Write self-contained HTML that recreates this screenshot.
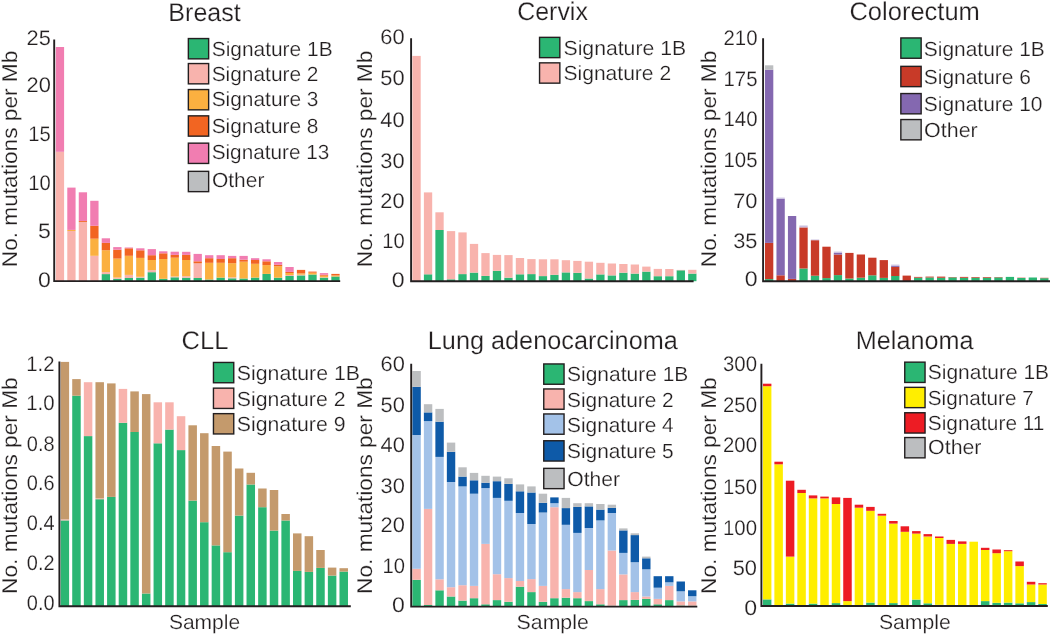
<!DOCTYPE html>
<html><head><meta charset="utf-8"><title>Mutational signatures per sample</title>
<style>
html,body{margin:0;padding:0;background:#ffffff;}
body{width:1050px;height:634px;overflow:hidden;}
svg{display:block;will-change:transform;}
text{font-family:"Liberation Sans",sans-serif;fill:#231f20;stroke:#ffffff;stroke-width:0.2px;paint-order:fill stroke;text-rendering:geometricPrecision;}
.t{font-size:25.5px;}
.l{font-size:20.5px;}
.k{font-size:21px;text-anchor:end;}
.y{font-size:21.4px;}
.s{font-size:20.5px;}
</style></head><body>
<svg width="1050" height="634" viewBox="0 0 1050 634">
<rect x="0" y="0" width="1050" height="634" fill="#ffffff"/>
<g>
<rect x="55.8" y="151.8" width="8.3" height="129.3" fill="#f8b3ad"/>
<rect x="55.8" y="47" width="8.3" height="104.8" fill="#f17db1"/>
<rect x="67.28" y="231" width="8.3" height="50.1" fill="#f8b3ad"/>
<rect x="67.28" y="229.9" width="8.3" height="1.1" fill="#fbb040"/>
<rect x="67.28" y="187.6" width="8.3" height="42.3" fill="#f17db1"/>
<rect x="78.76" y="221.9" width="8.3" height="59.2" fill="#f8b3ad"/>
<rect x="78.76" y="221" width="8.3" height="0.9" fill="#f26522"/>
<rect x="78.76" y="192.3" width="8.3" height="28.7" fill="#f17db1"/>
<rect x="90.24" y="255.8" width="8.3" height="25.3" fill="#f8b3ad"/>
<rect x="90.24" y="238.7" width="8.3" height="17.1" fill="#fbb040"/>
<rect x="90.24" y="225.8" width="8.3" height="12.9" fill="#f26522"/>
<rect x="90.24" y="200.8" width="8.3" height="25" fill="#f17db1"/>
<rect x="101.72" y="274.1" width="8.3" height="7" fill="#2bb673"/>
<rect x="101.72" y="272.1" width="8.3" height="2" fill="#f8b3ad"/>
<rect x="101.72" y="250.2" width="8.3" height="21.9" fill="#fbb040"/>
<rect x="101.72" y="242.9" width="8.3" height="7.3" fill="#f26522"/>
<rect x="101.72" y="238.3" width="8.3" height="4.6" fill="#f17db1"/>
<rect x="113.2" y="278.8" width="8.3" height="2.3" fill="#2bb673"/>
<rect x="113.2" y="277.6" width="8.3" height="1.2" fill="#f8b3ad"/>
<rect x="113.2" y="258.6" width="8.3" height="19" fill="#fbb040"/>
<rect x="113.2" y="249.7" width="8.3" height="8.9" fill="#f26522"/>
<rect x="113.2" y="247.1" width="8.3" height="2.6" fill="#f17db1"/>
<rect x="124.68" y="278" width="8.3" height="3.1" fill="#2bb673"/>
<rect x="124.68" y="274.9" width="8.3" height="3.1" fill="#f8b3ad"/>
<rect x="124.68" y="255.8" width="8.3" height="19.1" fill="#fbb040"/>
<rect x="124.68" y="248.3" width="8.3" height="7.5" fill="#f26522"/>
<rect x="124.68" y="247.5" width="8.3" height="0.8" fill="#f17db1"/>
<rect x="136.16" y="277.7" width="8.3" height="3.4" fill="#2bb673"/>
<rect x="136.16" y="276.8" width="8.3" height="0.9" fill="#f8b3ad"/>
<rect x="136.16" y="257.9" width="8.3" height="18.9" fill="#fbb040"/>
<rect x="136.16" y="250.3" width="8.3" height="7.6" fill="#f26522"/>
<rect x="136.16" y="248.3" width="8.3" height="2" fill="#f17db1"/>
<rect x="147.64" y="272.2" width="8.3" height="8.9" fill="#2bb673"/>
<rect x="147.64" y="270.1" width="8.3" height="2.1" fill="#f8b3ad"/>
<rect x="147.64" y="260" width="8.3" height="10.1" fill="#fbb040"/>
<rect x="147.64" y="255.2" width="8.3" height="4.8" fill="#f26522"/>
<rect x="147.64" y="249.1" width="8.3" height="6.1" fill="#f17db1"/>
<rect x="159.12" y="278.8" width="8.3" height="2.3" fill="#2bb673"/>
<rect x="159.12" y="259" width="8.3" height="19.8" fill="#fbb040"/>
<rect x="159.12" y="253.3" width="8.3" height="5.7" fill="#f26522"/>
<rect x="159.12" y="251.3" width="8.3" height="2" fill="#f17db1"/>
<rect x="170.6" y="277.3" width="8.3" height="3.8" fill="#2bb673"/>
<rect x="170.6" y="276.5" width="8.3" height="0.8" fill="#f8b3ad"/>
<rect x="170.6" y="257.7" width="8.3" height="18.8" fill="#fbb040"/>
<rect x="170.6" y="254.9" width="8.3" height="2.8" fill="#f26522"/>
<rect x="170.6" y="251.7" width="8.3" height="3.2" fill="#f17db1"/>
<rect x="182.08" y="277.7" width="8.3" height="3.4" fill="#2bb673"/>
<rect x="182.08" y="276.2" width="8.3" height="1.5" fill="#f8b3ad"/>
<rect x="182.08" y="260" width="8.3" height="16.2" fill="#fbb040"/>
<rect x="182.08" y="254.9" width="8.3" height="5.1" fill="#f26522"/>
<rect x="182.08" y="251.8" width="8.3" height="3.1" fill="#f17db1"/>
<rect x="193.56" y="278" width="8.3" height="3.1" fill="#2bb673"/>
<rect x="193.56" y="263.3" width="8.3" height="14.7" fill="#f8b3ad"/>
<rect x="193.56" y="261.3" width="8.3" height="2" fill="#f26522"/>
<rect x="193.56" y="253.9" width="8.3" height="7.4" fill="#f17db1"/>
<rect x="205.04" y="279.5" width="8.3" height="1.6" fill="#2bb673"/>
<rect x="205.04" y="262.8" width="8.3" height="16.7" fill="#fbb040"/>
<rect x="205.04" y="258.2" width="8.3" height="4.6" fill="#f26522"/>
<rect x="205.04" y="255.2" width="8.3" height="3" fill="#f17db1"/>
<rect x="216.52" y="277.6" width="8.3" height="3.5" fill="#2bb673"/>
<rect x="216.52" y="262.8" width="8.3" height="14.8" fill="#fbb040"/>
<rect x="216.52" y="259" width="8.3" height="3.8" fill="#f26522"/>
<rect x="216.52" y="255.2" width="8.3" height="3.8" fill="#f17db1"/>
<rect x="228" y="278.3" width="8.3" height="2.8" fill="#2bb673"/>
<rect x="228" y="277.3" width="8.3" height="1" fill="#f8b3ad"/>
<rect x="228" y="263.2" width="8.3" height="14.1" fill="#fbb040"/>
<rect x="228" y="258.2" width="8.3" height="5" fill="#f26522"/>
<rect x="228" y="255.9" width="8.3" height="2.3" fill="#f17db1"/>
<rect x="239.48" y="278.5" width="8.3" height="2.6" fill="#2bb673"/>
<rect x="239.48" y="261.7" width="8.3" height="16.8" fill="#fbb040"/>
<rect x="239.48" y="259.7" width="8.3" height="2" fill="#f26522"/>
<rect x="239.48" y="255.9" width="8.3" height="3.8" fill="#f17db1"/>
<rect x="250.96" y="277.6" width="8.3" height="3.5" fill="#2bb673"/>
<rect x="250.96" y="263.8" width="8.3" height="13.8" fill="#fbb040"/>
<rect x="250.96" y="260" width="8.3" height="3.8" fill="#f26522"/>
<rect x="250.96" y="258.2" width="8.3" height="1.8" fill="#f17db1"/>
<rect x="262.44" y="273.9" width="8.3" height="7.2" fill="#2bb673"/>
<rect x="262.44" y="265.1" width="8.3" height="8.8" fill="#fbb040"/>
<rect x="262.44" y="261.3" width="8.3" height="3.8" fill="#f26522"/>
<rect x="262.44" y="259.3" width="8.3" height="2" fill="#f17db1"/>
<rect x="273.92" y="277.7" width="8.3" height="3.4" fill="#2bb673"/>
<rect x="273.92" y="266.3" width="8.3" height="11.4" fill="#fbb040"/>
<rect x="273.92" y="264.8" width="8.3" height="1.5" fill="#f26522"/>
<rect x="273.92" y="262" width="8.3" height="2.8" fill="#f17db1"/>
<rect x="285.4" y="276" width="8.3" height="5.1" fill="#2bb673"/>
<rect x="285.4" y="275" width="8.3" height="1" fill="#f8b3ad"/>
<rect x="285.4" y="273" width="8.3" height="2" fill="#fbb040"/>
<rect x="285.4" y="271.9" width="8.3" height="1.1" fill="#f26522"/>
<rect x="285.4" y="267" width="8.3" height="4.9" fill="#f17db1"/>
<rect x="296.88" y="275.4" width="8.3" height="5.7" fill="#2bb673"/>
<rect x="296.88" y="274.7" width="8.3" height="0.7" fill="#f8b3ad"/>
<rect x="296.88" y="273.4" width="8.3" height="1.3" fill="#fbb040"/>
<rect x="296.88" y="269.9" width="8.3" height="3.5" fill="#f26522"/>
<rect x="308.36" y="274.5" width="8.3" height="6.6" fill="#2bb673"/>
<rect x="308.36" y="272.7" width="8.3" height="1.8" fill="#fbb040"/>
<rect x="308.36" y="271.6" width="8.3" height="1.1" fill="#f26522"/>
<rect x="319.84" y="277.7" width="8.3" height="3.4" fill="#2bb673"/>
<rect x="319.84" y="277.3" width="8.3" height="0.4" fill="#f8b3ad"/>
<rect x="319.84" y="275.7" width="8.3" height="1.6" fill="#fbb040"/>
<rect x="319.84" y="274.7" width="8.3" height="1" fill="#f26522"/>
<rect x="319.84" y="273.1" width="8.3" height="1.6" fill="#f17db1"/>
<rect x="331.32" y="276.5" width="8.3" height="4.6" fill="#2bb673"/>
<rect x="331.32" y="275.4" width="8.3" height="1.1" fill="#fbb040"/>
<rect x="331.32" y="273.9" width="8.3" height="1.5" fill="#f26522"/>
<path d="M54.2 39.5 V281.1 H340.2" fill="none" stroke="#231f20" stroke-width="1.9"/>
<text class="k" transform="translate(50.8 287.1) scale(1.1 1)">0</text>
<text class="k" transform="translate(50.8 238.2) scale(1.1 1)">5</text>
<text class="k" transform="translate(50.8 190.4) scale(0.96 1)">10</text>
<text class="k" transform="translate(50.8 140.7) scale(0.96 1)">15</text>
<text class="k" transform="translate(50.8 92.4) scale(1.04 1)">20</text>
<text class="k" transform="translate(50.8 45) scale(1.04 1)">25</text>
<text class="y" transform="translate(16.8 267.2) rotate(-90)" textLength="216.5" lengthAdjust="spacingAndGlyphs">No. mutations per Mb</text>
<text class="t" x="168.3" y="20.6" textLength="72.5" lengthAdjust="spacingAndGlyphs">Breast</text>
<rect x="188.35" y="38.55" width="20.3" height="20.3" fill="#2bb673" stroke="#231f20" stroke-width="1.4"/>
<text class="l" x="211.7" y="55.7" textLength="120.9" lengthAdjust="spacingAndGlyphs">Signature 1B</text>
<rect x="188.35" y="63.55" width="20.3" height="20.3" fill="#f8b3ad" stroke="#231f20" stroke-width="1.4"/>
<text class="l" x="211.7" y="80.8" textLength="106.8" lengthAdjust="spacingAndGlyphs">Signature 2</text>
<rect x="188.35" y="89.55" width="20.3" height="20.3" fill="#fbb040" stroke="#231f20" stroke-width="1.4"/>
<text class="l" x="211.7" y="106.3" textLength="106.8" lengthAdjust="spacingAndGlyphs">Signature 3</text>
<rect x="188.35" y="115.85" width="20.3" height="20.3" fill="#f26522" stroke="#231f20" stroke-width="1.4"/>
<text class="l" x="211.7" y="133.1" textLength="106.8" lengthAdjust="spacingAndGlyphs">Signature 8</text>
<rect x="188.35" y="143.15" width="20.3" height="20.3" fill="#f17db1" stroke="#231f20" stroke-width="1.4"/>
<text class="l" x="211.7" y="159.1" textLength="117.6" lengthAdjust="spacingAndGlyphs">Signature 13</text>
<rect x="188.35" y="171.35" width="20.3" height="20.3" fill="#bcbec0" stroke="#231f20" stroke-width="1.4"/>
<text class="l" x="212" y="187.2" textLength="52.4" lengthAdjust="spacingAndGlyphs">Other</text>
</g>
<g>
<rect x="412.4" y="55.9" width="8.3" height="225.3" fill="#f8b3ad"/>
<rect x="423.89" y="274.3" width="8.3" height="6.9" fill="#2bb673"/>
<rect x="423.89" y="192.4" width="8.3" height="81.9" fill="#f8b3ad"/>
<rect x="435.38" y="230" width="8.3" height="51.2" fill="#2bb673"/>
<rect x="435.38" y="212.3" width="8.3" height="17.7" fill="#f8b3ad"/>
<rect x="446.87" y="279.3" width="8.3" height="1.9" fill="#2bb673"/>
<rect x="446.87" y="231.1" width="8.3" height="48.2" fill="#f8b3ad"/>
<rect x="458.36" y="274.1" width="8.3" height="7.1" fill="#2bb673"/>
<rect x="458.36" y="232.4" width="8.3" height="41.7" fill="#f8b3ad"/>
<rect x="469.85" y="272.6" width="8.3" height="8.6" fill="#2bb673"/>
<rect x="469.85" y="243.9" width="8.3" height="28.7" fill="#f8b3ad"/>
<rect x="481.34" y="275.9" width="8.3" height="5.3" fill="#2bb673"/>
<rect x="481.34" y="253.1" width="8.3" height="22.8" fill="#f8b3ad"/>
<rect x="492.83" y="270.8" width="8.3" height="10.4" fill="#2bb673"/>
<rect x="492.83" y="254.9" width="8.3" height="15.9" fill="#f8b3ad"/>
<rect x="504.32" y="277.7" width="8.3" height="3.5" fill="#2bb673"/>
<rect x="504.32" y="255.1" width="8.3" height="22.6" fill="#f8b3ad"/>
<rect x="515.81" y="274.3" width="8.3" height="6.9" fill="#2bb673"/>
<rect x="515.81" y="258" width="8.3" height="16.3" fill="#f8b3ad"/>
<rect x="527.3" y="274.1" width="8.3" height="7.1" fill="#2bb673"/>
<rect x="527.3" y="259.1" width="8.3" height="15" fill="#f8b3ad"/>
<rect x="538.79" y="276.1" width="8.3" height="5.1" fill="#2bb673"/>
<rect x="538.79" y="259.3" width="8.3" height="16.8" fill="#f8b3ad"/>
<rect x="550.28" y="274.8" width="8.3" height="6.4" fill="#2bb673"/>
<rect x="550.28" y="259.3" width="8.3" height="15.5" fill="#f8b3ad"/>
<rect x="561.77" y="272.4" width="8.3" height="8.8" fill="#2bb673"/>
<rect x="561.77" y="260.2" width="8.3" height="12.2" fill="#f8b3ad"/>
<rect x="573.26" y="272.8" width="8.3" height="8.4" fill="#2bb673"/>
<rect x="573.26" y="260.9" width="8.3" height="11.9" fill="#f8b3ad"/>
<rect x="584.75" y="278.5" width="8.3" height="2.7" fill="#2bb673"/>
<rect x="584.75" y="261.7" width="8.3" height="16.8" fill="#f8b3ad"/>
<rect x="596.24" y="274.4" width="8.3" height="6.8" fill="#2bb673"/>
<rect x="596.24" y="262.8" width="8.3" height="11.6" fill="#f8b3ad"/>
<rect x="607.73" y="275.4" width="8.3" height="5.8" fill="#2bb673"/>
<rect x="607.73" y="263.5" width="8.3" height="11.9" fill="#f8b3ad"/>
<rect x="619.22" y="272.7" width="8.3" height="8.5" fill="#2bb673"/>
<rect x="619.22" y="264" width="8.3" height="8.7" fill="#f8b3ad"/>
<rect x="630.71" y="273.6" width="8.3" height="7.6" fill="#2bb673"/>
<rect x="630.71" y="264.5" width="8.3" height="9.1" fill="#f8b3ad"/>
<rect x="642.2" y="271.6" width="8.3" height="9.6" fill="#2bb673"/>
<rect x="642.2" y="266.6" width="8.3" height="5" fill="#f8b3ad"/>
<rect x="653.69" y="276.2" width="8.3" height="5" fill="#2bb673"/>
<rect x="653.69" y="268.9" width="8.3" height="7.3" fill="#f8b3ad"/>
<rect x="665.18" y="276.2" width="8.3" height="5" fill="#2bb673"/>
<rect x="665.18" y="269" width="8.3" height="7.2" fill="#f8b3ad"/>
<rect x="676.67" y="270.3" width="8.3" height="10.9" fill="#2bb673"/>
<rect x="676.67" y="269.9" width="8.3" height="0.4" fill="#f8b3ad"/>
<rect x="688.16" y="273.6" width="8.3" height="7.6" fill="#2bb673"/>
<rect x="688.16" y="269.8" width="8.3" height="3.8" fill="#f8b3ad"/>
<path d="M411.1 38.3 V281.2 H693.6" fill="none" stroke="#231f20" stroke-width="1.9"/>
<text class="k" transform="translate(404.6 287.1) scale(1.1 1)">0</text>
<text class="k" transform="translate(404.6 247.7) scale(0.96 1)">10</text>
<text class="k" transform="translate(404.6 207.8) scale(1.04 1)">20</text>
<text class="k" transform="translate(404.6 167.8) scale(1.04 1)">30</text>
<text class="k" transform="translate(404.6 126.9) scale(1.04 1)">40</text>
<text class="k" transform="translate(404.6 85.1) scale(1.04 1)">50</text>
<text class="k" transform="translate(404.6 43.8) scale(1.04 1)">60</text>
<text class="y" transform="translate(371.9 267.2) rotate(-90)" textLength="216.5" lengthAdjust="spacingAndGlyphs">No. mutations per Mb</text>
<text class="t" x="517.2" y="20.4" textLength="70.7" lengthAdjust="spacingAndGlyphs">Cervix</text>
<rect x="539.55" y="37.35" width="20.3" height="20.3" fill="#2bb673" stroke="#231f20" stroke-width="1.4"/>
<text class="l" x="563.5" y="55" textLength="122.6" lengthAdjust="spacingAndGlyphs">Signature 1B</text>
<rect x="539.55" y="62.85" width="20.3" height="20.3" fill="#f8b3ad" stroke="#231f20" stroke-width="1.4"/>
<text class="l" x="563.5" y="80.3" textLength="107.6" lengthAdjust="spacingAndGlyphs">Signature 2</text>
</g>
<g>
<rect x="765" y="279.1" width="8.3" height="2.1" fill="#2bb673"/>
<rect x="765" y="242.9" width="8.3" height="36.2" fill="#c83a28"/>
<rect x="765" y="69.7" width="8.3" height="173.2" fill="#8468b0"/>
<rect x="765" y="65.3" width="8.3" height="4.4" fill="#bcbec0"/>
<rect x="776.47" y="275.3" width="8.3" height="5.9" fill="#c83a28"/>
<rect x="776.47" y="198.8" width="8.3" height="76.5" fill="#8468b0"/>
<rect x="776.47" y="197.6" width="8.3" height="1.2" fill="#c9bfe0"/>
<rect x="787.93" y="278.9" width="8.3" height="2.3" fill="#c83a28"/>
<rect x="787.93" y="216" width="8.3" height="62.9" fill="#8468b0"/>
<rect x="799.39" y="268.5" width="8.3" height="12.7" fill="#2bb673"/>
<rect x="799.39" y="227.4" width="8.3" height="41.1" fill="#c83a28"/>
<rect x="799.39" y="225.5" width="8.3" height="1.9" fill="#c9bfe0"/>
<rect x="810.86" y="275.7" width="8.3" height="5.5" fill="#2bb673"/>
<rect x="810.86" y="240.2" width="8.3" height="35.5" fill="#c83a28"/>
<rect x="810.86" y="239.5" width="8.3" height="0.7" fill="#c9bfe0"/>
<rect x="822.33" y="278.1" width="8.3" height="3.1" fill="#2bb673"/>
<rect x="822.33" y="246.7" width="8.3" height="31.4" fill="#c83a28"/>
<rect x="833.79" y="275.1" width="8.3" height="6.1" fill="#2bb673"/>
<rect x="833.79" y="254.5" width="8.3" height="20.6" fill="#c83a28"/>
<rect x="833.79" y="252.9" width="8.3" height="1.6" fill="#8468b0"/>
<rect x="833.79" y="251.6" width="8.3" height="1.3" fill="#c9bfe0"/>
<rect x="845.25" y="278.5" width="8.3" height="2.7" fill="#2bb673"/>
<rect x="845.25" y="252.9" width="8.3" height="25.6" fill="#c83a28"/>
<rect x="856.72" y="277.7" width="8.3" height="3.5" fill="#2bb673"/>
<rect x="856.72" y="254.5" width="8.3" height="23.2" fill="#c83a28"/>
<rect x="868.18" y="275.3" width="8.3" height="5.9" fill="#2bb673"/>
<rect x="868.18" y="257.7" width="8.3" height="17.6" fill="#c83a28"/>
<rect x="879.65" y="277.9" width="8.3" height="3.3" fill="#2bb673"/>
<rect x="879.65" y="260.1" width="8.3" height="17.8" fill="#c83a28"/>
<rect x="891.12" y="276" width="8.3" height="5.2" fill="#2bb673"/>
<rect x="891.12" y="266.9" width="8.3" height="9.1" fill="#c83a28"/>
<rect x="891.12" y="265.8" width="8.3" height="1.1" fill="#8468b0"/>
<rect x="891.12" y="264.6" width="8.3" height="1.2" fill="#c9bfe0"/>
<rect x="902.58" y="275.6" width="8.3" height="5.6" fill="#c83a28"/>
<rect x="914.04" y="277.7" width="8.3" height="3.5" fill="#2bb673"/>
<rect x="914.04" y="276.9" width="8.3" height="0.8" fill="#c83a28"/>
<rect x="925.51" y="277.5" width="8.3" height="3.7" fill="#2bb673"/>
<rect x="925.51" y="276.6" width="8.3" height="0.9" fill="#c83a28"/>
<rect x="936.98" y="277.8" width="8.3" height="3.4" fill="#2bb673"/>
<rect x="936.98" y="276.6" width="8.3" height="1.2" fill="#c83a28"/>
<rect x="948.44" y="277.4" width="8.3" height="3.8" fill="#2bb673"/>
<rect x="948.44" y="277" width="8.3" height="0.4" fill="#c83a28"/>
<rect x="959.9" y="277.8" width="8.3" height="3.4" fill="#2bb673"/>
<rect x="959.9" y="276.9" width="8.3" height="0.9" fill="#c83a28"/>
<rect x="971.37" y="277.7" width="8.3" height="3.5" fill="#2bb673"/>
<rect x="971.37" y="277" width="8.3" height="0.7" fill="#c83a28"/>
<rect x="982.84" y="277.7" width="8.3" height="3.5" fill="#2bb673"/>
<rect x="982.84" y="277" width="8.3" height="0.7" fill="#c83a28"/>
<rect x="994.3" y="277.4" width="8.3" height="3.8" fill="#2bb673"/>
<rect x="994.3" y="277" width="8.3" height="0.4" fill="#c83a28"/>
<rect x="1005.76" y="276.9" width="8.3" height="4.3" fill="#2bb673"/>
<rect x="1017.23" y="278" width="8.3" height="3.2" fill="#2bb673"/>
<rect x="1017.23" y="277.7" width="8.3" height="0.3" fill="#c83a28"/>
<rect x="1028.69" y="277.5" width="8.3" height="3.7" fill="#2bb673"/>
<rect x="1040.16" y="278.2" width="8.3" height="3" fill="#2bb673"/>
<rect x="1040.16" y="277.8" width="8.3" height="0.4" fill="#c83a28"/>
<path d="M763.1 38.3 V281.2 H1050.5" fill="none" stroke="#231f20" stroke-width="1.9"/>
<text class="k" transform="translate(757.5 285.8) scale(1.1 1)">0</text>
<text class="k" transform="translate(757.5 248.2) scale(1.04 1)">35</text>
<text class="k" transform="translate(757.5 208.1) scale(1.04 1)">70</text>
<text class="k" transform="translate(757.5 167) scale(0.97 1)">105</text>
<text class="k" transform="translate(757.5 125.9) scale(0.97 1)">140</text>
<text class="k" transform="translate(757.5 85.9) scale(0.97 1)">175</text>
<text class="k" transform="translate(757.5 45) scale(0.97 1)">210</text>
<text class="y" transform="translate(715.6 267.2) rotate(-90)" textLength="216.5" lengthAdjust="spacingAndGlyphs">No. mutations per Mb</text>
<text class="t" x="849.4" y="20.4" textLength="130.5" lengthAdjust="spacingAndGlyphs">Colorectum</text>
<rect x="900.85" y="37.95" width="20.3" height="20.3" fill="#2bb673" stroke="#231f20" stroke-width="1.4"/>
<text class="l" x="923.8" y="55.5" textLength="121" lengthAdjust="spacingAndGlyphs">Signature 1B</text>
<rect x="900.85" y="66.35" width="20.3" height="20.3" fill="#c83a28" stroke="#231f20" stroke-width="1.4"/>
<text class="l" x="923.8" y="83.8" textLength="107.1" lengthAdjust="spacingAndGlyphs">Signature 6</text>
<rect x="900.85" y="93.55" width="20.3" height="20.3" fill="#8468b0" stroke="#231f20" stroke-width="1.4"/>
<text class="l" x="923.8" y="110.6" textLength="118.7" lengthAdjust="spacingAndGlyphs">Signature 10</text>
<rect x="900.85" y="119.55" width="20.3" height="20.3" fill="#bcbec0" stroke="#231f20" stroke-width="1.4"/>
<text class="l" x="924.1" y="137" textLength="53.6" lengthAdjust="spacingAndGlyphs">Other</text>
</g>
<g>
<rect x="60.6" y="520.4" width="8.5" height="85.9" fill="#2bb673"/>
<rect x="60.6" y="519.4" width="8.5" height="1" fill="#f8b3ad"/>
<rect x="60.6" y="361.9" width="8.5" height="157.5" fill="#c49a6c"/>
<rect x="72.22" y="395.7" width="8.5" height="210.6" fill="#2bb673"/>
<rect x="72.22" y="379.1" width="8.5" height="16.6" fill="#c49a6c"/>
<rect x="83.84" y="436.1" width="8.5" height="170.2" fill="#2bb673"/>
<rect x="83.84" y="382.2" width="8.5" height="53.9" fill="#f8b3ad"/>
<rect x="95.46" y="499.2" width="8.5" height="107.1" fill="#2bb673"/>
<rect x="95.46" y="498.4" width="8.5" height="0.8" fill="#f8b3ad"/>
<rect x="95.46" y="382.2" width="8.5" height="116.2" fill="#c49a6c"/>
<rect x="107.08" y="496.9" width="8.5" height="109.4" fill="#2bb673"/>
<rect x="107.08" y="383.4" width="8.5" height="113.5" fill="#c49a6c"/>
<rect x="118.7" y="422.8" width="8.5" height="183.5" fill="#2bb673"/>
<rect x="118.7" y="388.9" width="8.5" height="33.9" fill="#f8b3ad"/>
<rect x="130.32" y="432" width="8.5" height="174.3" fill="#2bb673"/>
<rect x="130.32" y="391.4" width="8.5" height="40.6" fill="#c49a6c"/>
<rect x="141.94" y="593.5" width="8.5" height="12.8" fill="#2bb673"/>
<rect x="141.94" y="394.1" width="8.5" height="199.4" fill="#c49a6c"/>
<rect x="153.56" y="443.3" width="8.5" height="163" fill="#2bb673"/>
<rect x="153.56" y="402.3" width="8.5" height="41" fill="#f8b3ad"/>
<rect x="165.18" y="429.6" width="8.5" height="176.7" fill="#2bb673"/>
<rect x="165.18" y="402.3" width="8.5" height="27.3" fill="#f8b3ad"/>
<rect x="176.8" y="450.1" width="8.5" height="156.2" fill="#2bb673"/>
<rect x="176.8" y="416.2" width="8.5" height="33.9" fill="#f8b3ad"/>
<rect x="188.42" y="500.6" width="8.5" height="105.7" fill="#2bb673"/>
<rect x="188.42" y="425.3" width="8.5" height="75.3" fill="#c49a6c"/>
<rect x="200.04" y="522.2" width="8.5" height="84.1" fill="#2bb673"/>
<rect x="200.04" y="433.2" width="8.5" height="89" fill="#c49a6c"/>
<rect x="211.66" y="545.4" width="8.5" height="60.9" fill="#2bb673"/>
<rect x="211.66" y="446" width="8.5" height="99.4" fill="#c49a6c"/>
<rect x="223.28" y="552.2" width="8.5" height="54.1" fill="#2bb673"/>
<rect x="223.28" y="451.6" width="8.5" height="100.6" fill="#c49a6c"/>
<rect x="234.9" y="515.6" width="8.5" height="90.7" fill="#2bb673"/>
<rect x="234.9" y="468.5" width="8.5" height="47.1" fill="#c49a6c"/>
<rect x="246.52" y="484.5" width="8.5" height="121.8" fill="#2bb673"/>
<rect x="246.52" y="472.8" width="8.5" height="11.7" fill="#c49a6c"/>
<rect x="258.14" y="507.2" width="8.5" height="99.1" fill="#2bb673"/>
<rect x="258.14" y="488.5" width="8.5" height="18.7" fill="#c49a6c"/>
<rect x="269.76" y="530.6" width="8.5" height="75.7" fill="#2bb673"/>
<rect x="269.76" y="490" width="8.5" height="40.6" fill="#c49a6c"/>
<rect x="281.38" y="520.5" width="8.5" height="85.8" fill="#2bb673"/>
<rect x="281.38" y="514" width="8.5" height="6.5" fill="#c49a6c"/>
<rect x="293" y="570.9" width="8.5" height="35.4" fill="#2bb673"/>
<rect x="293" y="533.4" width="8.5" height="37.5" fill="#c49a6c"/>
<rect x="304.62" y="571.9" width="8.5" height="34.4" fill="#2bb673"/>
<rect x="304.62" y="536.2" width="8.5" height="35.7" fill="#c49a6c"/>
<rect x="316.24" y="567.9" width="8.5" height="38.4" fill="#2bb673"/>
<rect x="316.24" y="550" width="8.5" height="17.9" fill="#c49a6c"/>
<rect x="327.86" y="575.6" width="8.5" height="30.7" fill="#2bb673"/>
<rect x="327.86" y="567.6" width="8.5" height="8" fill="#c49a6c"/>
<rect x="339.48" y="571.6" width="8.5" height="34.7" fill="#2bb673"/>
<rect x="339.48" y="568.2" width="8.5" height="3.4" fill="#c49a6c"/>
<path d="M59.4 361.6 V606.3 H350.8" fill="none" stroke="#231f20" stroke-width="1.9"/>
<text class="k" transform="translate(54.6 610) scale(0.95 1)">0.0</text>
<text class="k" transform="translate(54.6 569.9) scale(0.95 1)">0.2</text>
<text class="k" transform="translate(54.6 529.7) scale(0.95 1)">0.4</text>
<text class="k" transform="translate(54.6 490.3) scale(0.95 1)">0.6</text>
<text class="k" transform="translate(54.6 451.2) scale(0.95 1)">0.8</text>
<text class="k" transform="translate(54.6 410.3) scale(0.97 1)">1.0</text>
<text class="k" transform="translate(54.6 370.7) scale(0.97 1)">1.2</text>
<text class="y" transform="translate(16.7 593.9) rotate(-90)" textLength="216.5" lengthAdjust="spacingAndGlyphs">No. mutations per Mb</text>
<text class="t" x="181.6" y="349" textLength="46.8" lengthAdjust="spacingAndGlyphs">CLL</text>
<text class="s" x="168.9" y="628.8" textLength="71.2" lengthAdjust="spacingAndGlyphs">Sample</text>
<rect x="213.45" y="362.45" width="20.3" height="20.3" fill="#2bb673" stroke="#231f20" stroke-width="1.4"/>
<text class="l" x="236.8" y="380.4" textLength="123.2" lengthAdjust="spacingAndGlyphs">Signature 1B</text>
<rect x="213.45" y="388.15" width="20.3" height="20.3" fill="#f8b3ad" stroke="#231f20" stroke-width="1.4"/>
<text class="l" x="236.8" y="405.6" textLength="108.7" lengthAdjust="spacingAndGlyphs">Signature 2</text>
<rect x="213.45" y="413.65" width="20.3" height="20.3" fill="#c49a6c" stroke="#231f20" stroke-width="1.4"/>
<text class="l" x="236.8" y="430.9" textLength="108.7" lengthAdjust="spacingAndGlyphs">Signature 9</text>
</g>
<g>
<rect x="412.4" y="579.8" width="8.4" height="26.8" fill="#2bb673"/>
<rect x="412.4" y="568.8" width="8.4" height="11" fill="#f8b3ad"/>
<rect x="412.4" y="435" width="8.4" height="133.8" fill="#a3c2e8"/>
<rect x="412.4" y="386.8" width="8.4" height="48.2" fill="#0e5aa8"/>
<rect x="412.4" y="371" width="8.4" height="15.8" fill="#bcbec0"/>
<rect x="423.88" y="605" width="8.4" height="1.6" fill="#2bb673"/>
<rect x="423.88" y="508.9" width="8.4" height="96.1" fill="#f8b3ad"/>
<rect x="423.88" y="421.1" width="8.4" height="87.8" fill="#a3c2e8"/>
<rect x="423.88" y="412.4" width="8.4" height="8.7" fill="#0e5aa8"/>
<rect x="423.88" y="404.2" width="8.4" height="8.2" fill="#bcbec0"/>
<rect x="435.37" y="590.3" width="8.4" height="16.3" fill="#2bb673"/>
<rect x="435.37" y="579.3" width="8.4" height="11" fill="#f8b3ad"/>
<rect x="435.37" y="456.9" width="8.4" height="122.4" fill="#a3c2e8"/>
<rect x="435.37" y="421.7" width="8.4" height="35.2" fill="#0e5aa8"/>
<rect x="435.37" y="408.9" width="8.4" height="12.8" fill="#bcbec0"/>
<rect x="446.85" y="596.5" width="8.4" height="10.1" fill="#2bb673"/>
<rect x="446.85" y="587.2" width="8.4" height="9.3" fill="#f8b3ad"/>
<rect x="446.85" y="482" width="8.4" height="105.2" fill="#a3c2e8"/>
<rect x="446.85" y="451.8" width="8.4" height="30.2" fill="#0e5aa8"/>
<rect x="446.85" y="442.6" width="8.4" height="9.2" fill="#bcbec0"/>
<rect x="458.34" y="600.6" width="8.4" height="6" fill="#2bb673"/>
<rect x="458.34" y="585.2" width="8.4" height="15.4" fill="#f8b3ad"/>
<rect x="458.34" y="486.4" width="8.4" height="98.8" fill="#a3c2e8"/>
<rect x="458.34" y="476.6" width="8.4" height="9.8" fill="#0e5aa8"/>
<rect x="458.34" y="467.3" width="8.4" height="9.3" fill="#bcbec0"/>
<rect x="469.82" y="598.2" width="8.4" height="8.4" fill="#2bb673"/>
<rect x="469.82" y="585.9" width="8.4" height="12.3" fill="#f8b3ad"/>
<rect x="469.82" y="493.7" width="8.4" height="92.2" fill="#a3c2e8"/>
<rect x="469.82" y="480.3" width="8.4" height="13.4" fill="#0e5aa8"/>
<rect x="469.82" y="472.9" width="8.4" height="7.4" fill="#bcbec0"/>
<rect x="481.31" y="604.3" width="8.4" height="2.3" fill="#2bb673"/>
<rect x="481.31" y="543.9" width="8.4" height="60.4" fill="#f8b3ad"/>
<rect x="481.31" y="488.1" width="8.4" height="55.8" fill="#a3c2e8"/>
<rect x="481.31" y="482.7" width="8.4" height="5.4" fill="#0e5aa8"/>
<rect x="481.31" y="475.8" width="8.4" height="6.9" fill="#bcbec0"/>
<rect x="492.79" y="600.1" width="8.4" height="6.5" fill="#2bb673"/>
<rect x="492.79" y="574.2" width="8.4" height="25.9" fill="#f8b3ad"/>
<rect x="492.79" y="497.9" width="8.4" height="76.3" fill="#a3c2e8"/>
<rect x="492.79" y="481.2" width="8.4" height="16.7" fill="#0e5aa8"/>
<rect x="492.79" y="476.6" width="8.4" height="4.6" fill="#bcbec0"/>
<rect x="504.28" y="601.8" width="8.4" height="4.8" fill="#2bb673"/>
<rect x="504.28" y="578.1" width="8.4" height="23.7" fill="#f8b3ad"/>
<rect x="504.28" y="500.8" width="8.4" height="77.3" fill="#a3c2e8"/>
<rect x="504.28" y="483.9" width="8.4" height="16.9" fill="#0e5aa8"/>
<rect x="504.28" y="478.3" width="8.4" height="5.6" fill="#bcbec0"/>
<rect x="515.76" y="586.7" width="8.4" height="19.9" fill="#2bb673"/>
<rect x="515.76" y="581" width="8.4" height="5.7" fill="#f8b3ad"/>
<rect x="515.76" y="513" width="8.4" height="68" fill="#a3c2e8"/>
<rect x="515.76" y="491.3" width="8.4" height="21.7" fill="#0e5aa8"/>
<rect x="515.76" y="484.4" width="8.4" height="6.9" fill="#bcbec0"/>
<rect x="527.25" y="592.1" width="8.4" height="14.5" fill="#2bb673"/>
<rect x="527.25" y="579.1" width="8.4" height="13" fill="#f8b3ad"/>
<rect x="527.25" y="524" width="8.4" height="55.1" fill="#a3c2e8"/>
<rect x="527.25" y="492.5" width="8.4" height="31.5" fill="#0e5aa8"/>
<rect x="527.25" y="486.4" width="8.4" height="6.1" fill="#bcbec0"/>
<rect x="538.74" y="601.8" width="8.4" height="4.8" fill="#2bb673"/>
<rect x="538.74" y="585.9" width="8.4" height="15.9" fill="#f8b3ad"/>
<rect x="538.74" y="512.5" width="8.4" height="73.4" fill="#a3c2e8"/>
<rect x="538.74" y="502.8" width="8.4" height="9.7" fill="#0e5aa8"/>
<rect x="538.74" y="493.7" width="8.4" height="9.1" fill="#bcbec0"/>
<rect x="550.22" y="598.2" width="8.4" height="8.4" fill="#2bb673"/>
<rect x="550.22" y="507.2" width="8.4" height="91" fill="#f8b3ad"/>
<rect x="550.22" y="503.2" width="8.4" height="4" fill="#a3c2e8"/>
<rect x="550.22" y="497.4" width="8.4" height="5.8" fill="#0e5aa8"/>
<rect x="561.7" y="597.7" width="8.4" height="8.9" fill="#2bb673"/>
<rect x="561.7" y="589.1" width="8.4" height="8.6" fill="#f8b3ad"/>
<rect x="561.7" y="524.8" width="8.4" height="64.3" fill="#a3c2e8"/>
<rect x="561.7" y="508.1" width="8.4" height="16.7" fill="#0e5aa8"/>
<rect x="561.7" y="497.9" width="8.4" height="10.2" fill="#bcbec0"/>
<rect x="573.19" y="598.2" width="8.4" height="8.4" fill="#2bb673"/>
<rect x="573.19" y="592.1" width="8.4" height="6.1" fill="#f8b3ad"/>
<rect x="573.19" y="532.9" width="8.4" height="59.2" fill="#a3c2e8"/>
<rect x="573.19" y="506.9" width="8.4" height="26" fill="#0e5aa8"/>
<rect x="573.19" y="503.2" width="8.4" height="3.7" fill="#bcbec0"/>
<rect x="584.67" y="601.1" width="8.4" height="5.5" fill="#2bb673"/>
<rect x="584.67" y="570" width="8.4" height="31.1" fill="#f8b3ad"/>
<rect x="584.67" y="528" width="8.4" height="42" fill="#a3c2e8"/>
<rect x="584.67" y="506.4" width="8.4" height="21.6" fill="#0e5aa8"/>
<rect x="584.67" y="503.2" width="8.4" height="3.2" fill="#bcbec0"/>
<rect x="596.16" y="604.3" width="8.4" height="2.3" fill="#2bb673"/>
<rect x="596.16" y="589.1" width="8.4" height="15.2" fill="#f8b3ad"/>
<rect x="596.16" y="520.4" width="8.4" height="68.7" fill="#a3c2e8"/>
<rect x="596.16" y="509.6" width="8.4" height="10.8" fill="#0e5aa8"/>
<rect x="596.16" y="504" width="8.4" height="5.6" fill="#bcbec0"/>
<rect x="607.64" y="605.7" width="8.4" height="0.9" fill="#2bb673"/>
<rect x="607.64" y="550.5" width="8.4" height="55.2" fill="#f8b3ad"/>
<rect x="607.64" y="513" width="8.4" height="37.5" fill="#a3c2e8"/>
<rect x="607.64" y="507.9" width="8.4" height="5.1" fill="#0e5aa8"/>
<rect x="607.64" y="504.7" width="8.4" height="3.2" fill="#bcbec0"/>
<rect x="619.13" y="600.1" width="8.4" height="6.5" fill="#2bb673"/>
<rect x="619.13" y="574.4" width="8.4" height="25.7" fill="#f8b3ad"/>
<rect x="619.13" y="552.9" width="8.4" height="21.5" fill="#a3c2e8"/>
<rect x="619.13" y="530.4" width="8.4" height="22.5" fill="#0e5aa8"/>
<rect x="619.13" y="528.4" width="8.4" height="2" fill="#bcbec0"/>
<rect x="630.62" y="599.9" width="8.4" height="6.7" fill="#2bb673"/>
<rect x="630.62" y="592.1" width="8.4" height="7.8" fill="#f8b3ad"/>
<rect x="630.62" y="562.2" width="8.4" height="29.9" fill="#a3c2e8"/>
<rect x="630.62" y="535.1" width="8.4" height="27.1" fill="#0e5aa8"/>
<rect x="630.62" y="533.3" width="8.4" height="1.8" fill="#bcbec0"/>
<rect x="642.1" y="598.9" width="8.4" height="7.7" fill="#2bb673"/>
<rect x="642.1" y="596.5" width="8.4" height="2.4" fill="#f8b3ad"/>
<rect x="642.1" y="569.3" width="8.4" height="27.2" fill="#a3c2e8"/>
<rect x="642.1" y="558.3" width="8.4" height="11" fill="#0e5aa8"/>
<rect x="642.1" y="556.6" width="8.4" height="1.7" fill="#bcbec0"/>
<rect x="653.59" y="604.3" width="8.4" height="2.3" fill="#2bb673"/>
<rect x="653.59" y="598.9" width="8.4" height="5.4" fill="#f8b3ad"/>
<rect x="653.59" y="587.7" width="8.4" height="11.2" fill="#a3c2e8"/>
<rect x="653.59" y="576.2" width="8.4" height="11.5" fill="#0e5aa8"/>
<rect x="665.07" y="600.1" width="8.4" height="6.5" fill="#2bb673"/>
<rect x="665.07" y="585.9" width="8.4" height="14.2" fill="#f8b3ad"/>
<rect x="665.07" y="582.3" width="8.4" height="3.6" fill="#a3c2e8"/>
<rect x="665.07" y="576.2" width="8.4" height="6.1" fill="#0e5aa8"/>
<rect x="676.55" y="605.5" width="8.4" height="1.1" fill="#2bb673"/>
<rect x="676.55" y="601.4" width="8.4" height="4.1" fill="#f8b3ad"/>
<rect x="676.55" y="591.3" width="8.4" height="10.1" fill="#a3c2e8"/>
<rect x="676.55" y="581.5" width="8.4" height="9.8" fill="#0e5aa8"/>
<rect x="688.04" y="605.7" width="8.4" height="0.9" fill="#2bb673"/>
<rect x="688.04" y="601.4" width="8.4" height="4.3" fill="#f8b3ad"/>
<rect x="688.04" y="596.2" width="8.4" height="5.2" fill="#a3c2e8"/>
<rect x="688.04" y="590.3" width="8.4" height="5.9" fill="#0e5aa8"/>
<path d="M411.2 363.7 V606.6 H697.3" fill="none" stroke="#231f20" stroke-width="1.9"/>
<text class="k" transform="translate(404.9 612) scale(1.1 1)">0</text>
<text class="k" transform="translate(404.9 573.1) scale(0.96 1)">10</text>
<text class="k" transform="translate(404.9 532.2) scale(1.04 1)">20</text>
<text class="k" transform="translate(404.9 492.6) scale(1.04 1)">30</text>
<text class="k" transform="translate(404.9 451.5) scale(1.04 1)">40</text>
<text class="k" transform="translate(404.9 411.9) scale(1.04 1)">50</text>
<text class="k" transform="translate(404.9 370.6) scale(1.04 1)">60</text>
<text class="y" transform="translate(371.7 593.9) rotate(-90)" textLength="216.5" lengthAdjust="spacingAndGlyphs">No. mutations per Mb</text>
<text class="t" x="427.8" y="348.5" textLength="250" lengthAdjust="spacingAndGlyphs">Lung adenocarcinoma</text>
<text class="s" x="516.6" y="628.8" textLength="72.2" lengthAdjust="spacingAndGlyphs">Sample</text>
<rect x="543.75" y="363.95" width="20.3" height="20.3" fill="#2bb673" stroke="#231f20" stroke-width="1.4"/>
<text class="l" x="567" y="381.1" textLength="121.3" lengthAdjust="spacingAndGlyphs">Signature 1B</text>
<rect x="543.75" y="388.95" width="20.3" height="20.3" fill="#f8b3ad" stroke="#231f20" stroke-width="1.4"/>
<text class="l" x="567" y="406.5" textLength="106.7" lengthAdjust="spacingAndGlyphs">Signature 2</text>
<rect x="543.75" y="413.95" width="20.3" height="20.3" fill="#a3c2e8" stroke="#231f20" stroke-width="1.4"/>
<text class="l" x="567" y="431.9" textLength="106.7" lengthAdjust="spacingAndGlyphs">Signature 4</text>
<rect x="543.75" y="440.75" width="20.3" height="20.3" fill="#0e5aa8" stroke="#231f20" stroke-width="1.4"/>
<text class="l" x="567" y="458.1" textLength="106.7" lengthAdjust="spacingAndGlyphs">Signature 5</text>
<rect x="543.75" y="468.35" width="20.3" height="20.3" fill="#bcbec0" stroke="#231f20" stroke-width="1.4"/>
<text class="l" x="567.3" y="486" textLength="52.8" lengthAdjust="spacingAndGlyphs">Other</text>
</g>
<g>
<rect x="762.9" y="599.4" width="8.5" height="6.6" fill="#2bb673"/>
<rect x="762.9" y="386.2" width="8.5" height="213.2" fill="#ffee00"/>
<rect x="762.9" y="383.7" width="8.5" height="2.5" fill="#ed1c24"/>
<rect x="774.38" y="605.5" width="8.5" height="0.5" fill="#2bb673"/>
<rect x="774.38" y="464.3" width="8.5" height="141.2" fill="#ffee00"/>
<rect x="774.38" y="461.7" width="8.5" height="2.6" fill="#ed1c24"/>
<rect x="785.85" y="603.6" width="8.5" height="2.4" fill="#2bb673"/>
<rect x="785.85" y="556.6" width="8.5" height="47" fill="#ffee00"/>
<rect x="785.85" y="480.7" width="8.5" height="75.9" fill="#ed1c24"/>
<rect x="797.32" y="605" width="8.5" height="1" fill="#2bb673"/>
<rect x="797.32" y="493" width="8.5" height="112" fill="#ffee00"/>
<rect x="797.32" y="489.8" width="8.5" height="3.2" fill="#ed1c24"/>
<rect x="808.8" y="603.6" width="8.5" height="2.4" fill="#2bb673"/>
<rect x="808.8" y="498.4" width="8.5" height="105.2" fill="#ffee00"/>
<rect x="808.8" y="495.4" width="8.5" height="3" fill="#ed1c24"/>
<rect x="820.27" y="605.5" width="8.5" height="0.5" fill="#2bb673"/>
<rect x="820.27" y="498.4" width="8.5" height="107.1" fill="#ffee00"/>
<rect x="820.27" y="496.6" width="8.5" height="1.8" fill="#ed1c24"/>
<rect x="831.75" y="603.1" width="8.5" height="2.9" fill="#2bb673"/>
<rect x="831.75" y="504" width="8.5" height="99.1" fill="#ffee00"/>
<rect x="831.75" y="497.4" width="8.5" height="6.6" fill="#ed1c24"/>
<rect x="843.23" y="601.1" width="8.5" height="4.9" fill="#ffee00"/>
<rect x="843.23" y="497.9" width="8.5" height="103.2" fill="#ed1c24"/>
<rect x="854.7" y="605.3" width="8.5" height="0.7" fill="#2bb673"/>
<rect x="854.7" y="507.7" width="8.5" height="97.6" fill="#ffee00"/>
<rect x="854.7" y="504.7" width="8.5" height="3" fill="#ed1c24"/>
<rect x="866.17" y="602.6" width="8.5" height="3.4" fill="#2bb673"/>
<rect x="866.17" y="510.8" width="8.5" height="91.8" fill="#ffee00"/>
<rect x="866.17" y="506.9" width="8.5" height="3.9" fill="#ed1c24"/>
<rect x="877.65" y="605.5" width="8.5" height="0.5" fill="#2bb673"/>
<rect x="877.65" y="515.7" width="8.5" height="89.8" fill="#ffee00"/>
<rect x="877.65" y="513.8" width="8.5" height="1.9" fill="#ed1c24"/>
<rect x="889.12" y="603.1" width="8.5" height="2.9" fill="#2bb673"/>
<rect x="889.12" y="523.6" width="8.5" height="79.5" fill="#ffee00"/>
<rect x="889.12" y="521" width="8.5" height="2.6" fill="#ed1c24"/>
<rect x="900.6" y="531.8" width="8.5" height="74.2" fill="#ffee00"/>
<rect x="900.6" y="526.3" width="8.5" height="5.5" fill="#ed1c24"/>
<rect x="912.07" y="599.6" width="8.5" height="6.4" fill="#2bb673"/>
<rect x="912.07" y="533.6" width="8.5" height="66" fill="#ffee00"/>
<rect x="912.07" y="531.1" width="8.5" height="2.5" fill="#ed1c24"/>
<rect x="923.55" y="603.3" width="8.5" height="2.7" fill="#2bb673"/>
<rect x="923.55" y="536.5" width="8.5" height="66.8" fill="#ffee00"/>
<rect x="923.55" y="534.1" width="8.5" height="2.4" fill="#ed1c24"/>
<rect x="935.02" y="604.8" width="8.5" height="1.2" fill="#2bb673"/>
<rect x="935.02" y="538" width="8.5" height="66.8" fill="#ffee00"/>
<rect x="935.02" y="536.5" width="8.5" height="1.5" fill="#ed1c24"/>
<rect x="946.5" y="543.9" width="8.5" height="62.1" fill="#ffee00"/>
<rect x="946.5" y="539.9" width="8.5" height="4" fill="#ed1c24"/>
<rect x="957.97" y="605" width="8.5" height="1" fill="#2bb673"/>
<rect x="957.97" y="543.9" width="8.5" height="61.1" fill="#ffee00"/>
<rect x="957.97" y="541.4" width="8.5" height="2.5" fill="#ed1c24"/>
<rect x="969.45" y="605" width="8.5" height="1" fill="#2bb673"/>
<rect x="969.45" y="541.7" width="8.5" height="63.3" fill="#ffee00"/>
<rect x="980.92" y="601.1" width="8.5" height="4.9" fill="#2bb673"/>
<rect x="980.92" y="550" width="8.5" height="51.1" fill="#ffee00"/>
<rect x="980.92" y="547.8" width="8.5" height="2.2" fill="#ed1c24"/>
<rect x="992.4" y="602.8" width="8.5" height="3.2" fill="#2bb673"/>
<rect x="992.4" y="553.2" width="8.5" height="49.6" fill="#ffee00"/>
<rect x="992.4" y="549.5" width="8.5" height="3.7" fill="#ed1c24"/>
<rect x="1003.88" y="602.6" width="8.5" height="3.4" fill="#2bb673"/>
<rect x="1003.88" y="551.2" width="8.5" height="51.4" fill="#ffee00"/>
<rect x="1003.88" y="550.2" width="8.5" height="1" fill="#ed1c24"/>
<rect x="1015.35" y="603.3" width="8.5" height="2.7" fill="#2bb673"/>
<rect x="1015.35" y="566.1" width="8.5" height="37.2" fill="#ffee00"/>
<rect x="1015.35" y="561.5" width="8.5" height="4.6" fill="#ed1c24"/>
<rect x="1026.83" y="602.1" width="8.5" height="3.9" fill="#2bb673"/>
<rect x="1026.83" y="584.5" width="8.5" height="17.6" fill="#ffee00"/>
<rect x="1026.83" y="581.8" width="8.5" height="2.7" fill="#ed1c24"/>
<rect x="1038.3" y="604" width="8.5" height="2" fill="#2bb673"/>
<rect x="1038.3" y="584.5" width="8.5" height="19.5" fill="#ffee00"/>
<rect x="1038.3" y="583.2" width="8.5" height="1.3" fill="#ed1c24"/>
<path d="M761.4 363.7 V606 H1047.8" fill="none" stroke="#231f20" stroke-width="1.9"/>
<text class="k" transform="translate(757 614.8) scale(1.1 1)">0</text>
<text class="k" transform="translate(757 575.2) scale(1.04 1)">50</text>
<text class="k" transform="translate(757 535.1) scale(0.97 1)">100</text>
<text class="k" transform="translate(757 493.9) scale(0.97 1)">150</text>
<text class="k" transform="translate(757 451.9) scale(0.97 1)">200</text>
<text class="k" transform="translate(757 412.2) scale(0.97 1)">250</text>
<text class="k" transform="translate(757 371.2) scale(0.97 1)">300</text>
<text class="y" transform="translate(715.5 593.9) rotate(-90)" textLength="216.5" lengthAdjust="spacingAndGlyphs">No. mutations per Mb</text>
<text class="t" x="855.8" y="348.6" textLength="117.6" lengthAdjust="spacingAndGlyphs">Melanoma</text>
<text class="s" x="878.9" y="628.8" textLength="71.8" lengthAdjust="spacingAndGlyphs">Sample</text>
<rect x="904.75" y="362.15" width="20.3" height="20.3" fill="#2bb673" stroke="#231f20" stroke-width="1.4"/>
<text class="l" x="927.8" y="379.2" textLength="121.3" lengthAdjust="spacingAndGlyphs">Signature 1B</text>
<rect x="904.75" y="387.35" width="20.3" height="20.3" fill="#ffee00" stroke="#231f20" stroke-width="1.4"/>
<text class="l" x="927.8" y="404.5" textLength="105.9" lengthAdjust="spacingAndGlyphs">Signature 7</text>
<rect x="904.75" y="412.75" width="20.3" height="20.3" fill="#ed1c24" stroke="#231f20" stroke-width="1.4"/>
<text class="l" x="927.8" y="429.6" textLength="116.6" lengthAdjust="spacingAndGlyphs">Signature 11</text>
<rect x="904.75" y="437.55" width="20.3" height="20.3" fill="#bcbec0" stroke="#231f20" stroke-width="1.4"/>
<text class="l" x="928.1" y="454.4" textLength="53.4" lengthAdjust="spacingAndGlyphs">Other</text>
</g>
</svg>
</body></html>
